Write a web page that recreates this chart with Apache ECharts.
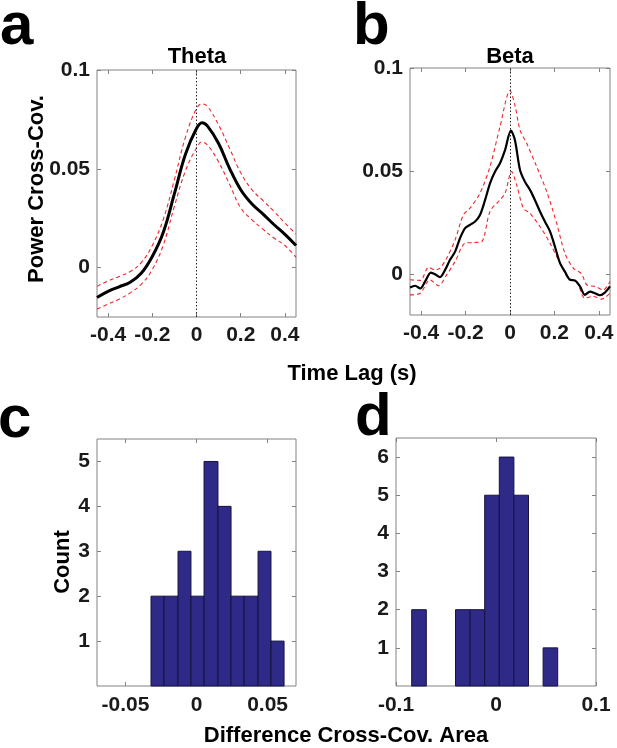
<!DOCTYPE html>
<html>
<head>
<meta charset="utf-8">
<script src="https://cdn.jsdelivr.net/npm/echarts@6/dist/echarts.min.js"></script>
<style>
html,body{margin:0;padding:0;background:#fff;}
#chart{width:617px;height:748px;}
</style>
</head>
<body>
<div id="chart"></div>
<script>
// ---- Panel a: Theta power cross-covariance ----
const thetaLag   = [-0.45,-0.4,-0.35,-0.3,-0.25,-0.2,-0.15,-0.1,-0.05,0,0.025,0.05,0.1,0.15,0.2,0.25,0.3,0.35,0.4,0.45];
const thetaMean  = [-0.0151,-0.012,-0.0097,-0.0074,-0.0029,0.0056,0.0179,0.0374,0.0574,0.0704,0.0733,0.0716,0.0628,0.0501,0.0394,0.0323,0.0272,0.0218,0.0168,0.0112];
const thetaUpper = [-0.0095,-0.0068,-0.0045,-0.002,0.0025,0.0112,0.0245,0.0445,0.066,0.0805,0.0828,0.0815,0.0722,0.0602,0.048,0.0395,0.034,0.0285,0.0225,0.0171];
const thetaLower = [-0.021,-0.0185,-0.016,-0.0128,-0.0085,-0.001,0.0115,0.031,0.049,0.0605,0.0636,0.062,0.0535,0.042,0.0302,0.0243,0.0195,0.015,0.0112,0.0052];

// ---- Panel b: Beta power cross-covariance ----
const betaMeanLag = [-0.45,-0.427,-0.404,-0.382,-0.356,-0.337,-0.315,-0.292,-0.27,-0.247,-0.225,-0.202,-0.18,-0.157,-0.135,-0.112,-0.09,-0.067,-0.045,-0.022,0.004,0.022,0.045,0.067,0.09,0.112,0.135,0.157,0.18,0.202,0.225,0.247,0.27,0.292,0.315,0.337,0.36,0.382,0.404,0.427,0.45];
const betaMean    = [-0.0066,-0.0058,-0.0071,-0.0037,0.0006,-0.0002,-0.0016,0.0019,0.0068,0.0108,0.0173,0.0222,0.0238,0.0254,0.0286,0.0359,0.044,0.0497,0.0537,0.0602,0.0696,0.065,0.0505,0.0448,0.0408,0.0359,0.0303,0.0254,0.0206,0.0133,0.0052,0.0011,-0.0029,-0.0032,-0.0061,-0.0102,-0.0086,-0.0094,-0.0104,-0.0091,-0.0061];
const betaUpperLag = [-0.45,-0.404,-0.366,-0.337,-0.315,-0.285,-0.247,-0.21,-0.18,-0.135,-0.09,-0.045,0,0.022,0.045,0.075,0.12,0.165,0.21,0.247,0.285,0.322,0.345,0.382,0.42,0.45];
const betaUpper    = [-0.0029,-0.0032,0.0032,0.0019,0.0028,0.0076,0.0165,0.0286,0.0319,0.0392,0.0521,0.0715,0.089,0.082,0.0699,0.0634,0.0521,0.04,0.0246,0.01,0.0028,0,-0.0053,-0.0061,-0.0078,-0.0037];
const betaLowerLag = [-0.45,-0.404,-0.36,-0.322,-0.285,-0.247,-0.202,-0.165,-0.127,-0.09,-0.045,-0.022,0.007,0.03,0.06,0.09,0.135,0.18,0.225,0.262,0.3,0.337,0.375,0.412,0.45];
const betaLower    = [-0.0102,-0.0094,-0.0029,-0.0058,-0.0005,0.006,0.0149,0.0152,0.0157,0.0303,0.0359,0.0392,0.0497,0.0432,0.0319,0.0294,0.023,0.0149,0.0052,-0.0021,-0.0037,-0.0118,-0.011,-0.0123,-0.0094];

// ---- Panel c / d: histograms of difference cross-cov. area ----
const cEdges  = [-0.032,-0.0229,-0.0130,-0.0039,0.0053,0.0151,0.0243,0.0334,0.0433,0.0524,0.0616];
const cCounts = [2,2,3,2,5,4,2,2,3,1];
const dEdges  = [-0.0843,-0.0697,-0.0551,-0.0405,-0.0259,-0.0113,0.0033,0.0179,0.0325,0.0471,0.0617];
const dCounts = [2,0,0,2,2,5,6,5,0,1];

// ---- tick labels ----
const lagTicks   = [-0.4,-0.2,0,0.2,0.4];
const covTicks   = [0,0.05,0.1];
const cXTicks    = [-0.05,0,0.05];
const cYTicks    = [1,2,3,4,5];
const dXTicks    = [-0.1,0,0.1];
const dYTicks    = [1,2,3,4,5,6];

const FONT = '"Liberation Sans", Arial, Helvetica, sans-serif';
const GRAY = '#828282';
const TICKC = '#1a1a1a';
const TICKFS = 21;

function zip(xs, ys){ return xs.map((x,i)=>[x, ys[i]]); }
function bins(edges, counts){ return counts.map((c,i)=>[edges[i], edges[i+1], c]); }

const grids = [
  {left:97,  top:70,  width:199, height:247},
  {left:410, top:68,  width:200, height:247},
  {left:97,  top:439, width:199, height:247},
  {left:396, top:438, width:200, height:248}
].map(g => Object.assign({show:true, borderColor:GRAY, borderWidth:1, backgroundColor:'transparent', containLabel:false}, g));

function axBase(gi, min, max, ticks, pos){
  return {type:'value', gridIndex:gi, min:min, max:max, position:pos,
    axisLine:{show:false, onZero:false}, splitLine:{show:false},
    axisTick:{show:true, inside:true, length:4, lineStyle:{color:GRAY}, customValues:ticks}};
}
function xAx(gi, min, max, ticks, margin){
  const b = axBase(gi, min, max, ticks, 'bottom');
  b.axisLabel = {show:true, customValues:ticks, margin:margin, color:TICKC, fontSize:TICKFS, fontWeight:'bold', fontFamily:FONT};
  const t = axBase(gi, min, max, ticks, 'top');
  t.axisLabel = {show:false};
  return [b, t];
}
function yAx(gi, min, max, ticks){
  const l = axBase(gi, min, max, ticks, 'left');
  l.axisLabel = {show:true, customValues:ticks, margin:7, color:TICKC, fontSize:TICKFS, fontWeight:'bold', fontFamily:FONT};
  const r = axBase(gi, min, max, ticks, 'right');
  r.axisLabel = {show:false};
  return [l, r];
}

const xAxes = [].concat(
  xAx(0, -0.45, 0.45, lagTicks, 8),
  xAx(1, -0.45, 0.45, lagTicks, 8),
  xAx(2, -0.07, 0.07, cXTicks, 9),
  xAx(3, -0.1, 0.1, dXTicks, 9)
);
const yAxes = [].concat(
  yAx(0, -0.025, 0.1, covTicks),
  yAx(1, -0.02, 0.1, covTicks),
  yAx(2, 0, 5.5, cYTicks),
  yAx(3, 0, 6.5, dYTicks)
);

function lineSeries(xi, yi, data, kind, smooth){
  const s = {type:'line', xAxisIndex:xi, yAxisIndex:yi, data:data, showSymbol:false, symbol:'none',
             smooth:smooth, clip:true, animation:false, silent:true};
  if(kind==='mean'){
    s.lineStyle = {color:'#000', width: xi===0 ? 3 : 2.2};
    s.z = 5;
  } else {
    s.lineStyle = {color:'#f0282d', width:1.1, type:[4,3]};
    s.z = 4;
  }
  return s;
}
function zeroMark(){
  return {silent:true, symbol:['none','none'], animation:false,
          label:{show:false}, lineStyle:{color:'#222', width:1, type:[1.5,2]},
          data:[{xAxis:0}]};
}
function histSeries(xi, yi, data){
  return {type:'custom', xAxisIndex:xi, yAxisIndex:yi, data:data, animation:false, silent:true,
    renderItem:function(params, api){
      const c = api.value(2);
      if(!c) return null;
      const p0 = api.coord([api.value(0), c]);
      const p1 = api.coord([api.value(1), 0]);
      return {type:'rect', shape:{x:p0[0], y:p0[1], width:p1[0]-p0[0], height:p1[1]-p0[1]},
              style:{fill:'#2f2a87', stroke:'#15133f', lineWidth:1}};
    }};
}

const sA = lineSeries(0, 0, zip(thetaLag, thetaMean), 'mean', 0.4);
sA.markLine = zeroMark();
const sB = lineSeries(2, 2, zip(betaMeanLag, betaMean), 'mean', 0.3);
sB.markLine = zeroMark();

const series = [
  lineSeries(0, 0, zip(thetaLag, thetaUpper), 'ci', 0.4),
  lineSeries(0, 0, zip(thetaLag, thetaLower), 'ci', 0.4),
  sA,
  lineSeries(2, 2, zip(betaUpperLag, betaUpper), 'ci', 0.3),
  lineSeries(2, 2, zip(betaLowerLag, betaLower), 'ci', 0.3),
  sB,
  histSeries(4, 4, bins(cEdges, cCounts)),
  histSeries(6, 6, bins(dEdges, dCounts))
];

function txt(text, x, y, size, rot){
  return {type:'text', x:x, y:y, rotation: rot||0, silent:true,
          style:{text:text, font:'bold '+size+'px '+FONT, fill:'#000', textAlign:'center', textVerticalAlign:'middle'}};
}
function letter(text, x, y){
  return {type:'text', x:x, y:y, silent:true,
          style:{text:text, font:'bold 60px '+FONT, fill:'#000', textAlign:'left', textVerticalAlign:'middle'}};
}

const chart = echarts.init(document.getElementById('chart'), null, {renderer:'canvas'});
chart.setOption({
  backgroundColor:'#fff',
  animation:false,
  grid: grids,
  xAxis: xAxes,
  yAxis: yAxes,
  series: series,
  graphic: [
    letter('a', 0, 27),
    letter('b', 353, 27),
    letter('c', -2, 420),
    letter('d', 355, 418),
    txt('Theta', 197, 57, 22),
    txt('Beta', 510, 57, 22),
    txt('Power Cross-Cov.', 37, 189, 22, Math.PI/2),
    txt('Time Lag (s)', 352, 374, 22),
    txt('Count', 63, 562, 22, Math.PI/2),
    txt('Difference Cross-Cov. Area', 346, 736, 22)
  ]
});
</script>
</body>
</html>
